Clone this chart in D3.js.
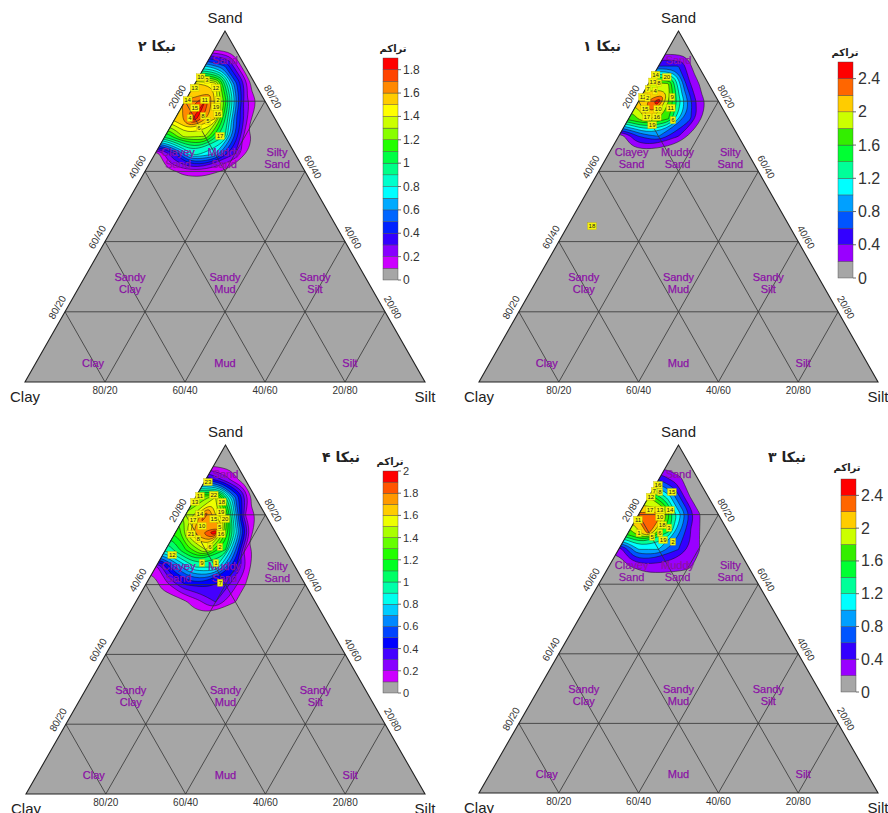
<!DOCTYPE html>
<html lang="fa"><head><meta charset="utf-8">
<script src="https://cdnjs.cloudflare.com/ajax/libs/d3/7.8.5/d3.min.js"></script>
<style>
html,body{margin:0;padding:0;background:#fff;}
svg{display:block;font-family:"Liberation Sans",Arial,sans-serif;}
</style></head><body>
<svg id="chart" width="888" height="813"></svg>
<script>
// ---------- grid of the density field (ternary coordinates, fractions) ----------
const sandRows = [1.00,0.95,0.90,0.85,0.80,0.75,0.70,0.65,0.60,0.55,0.50,0.45];
const siltCols = [-0.05,0,0.05,0.10,0.15,0.20,0.25,0.30];

// نبکا ۲ (top-left)
const densityNebka2 = [
 [0,0,0,0,0,0,0,0],
 [0.05,0.05,0,0,0,0,0,0],
 [0.7,0.7,0.5,0,0,0,0,0],
 [1.5,1.5,1.45,0.55,0,0,0,0],
 [1.6,1.6,1.8,1.15,0.25,0,0,0],
 [1.5,1.5,1.85,1.5,0.55,0,0,0],
 [1.0,1.0,1.35,1.3,0.9,0.15,0,0],
 [0,0,0.4,0.85,0.7,0.3,0,0],
 [0,0,0.05,0.13,0.15,0.08,0,0],
 [0,0,0,0,0,0,0,0],
 [0,0,0,0,0,0,0,0],
 [0,0,0,0,0,0,0,0]
];
// نبکا ۱ (top-right)
const densityNebka1 = [
 [0,0,0,0,0,0,0,0],
 [0,0,0,0,0,0,0,0],
 [0.6,0.6,0.6,0,0,0,0,0],
 [1.9,1.9,1.8,0.45,0,0,0,0],
 [2.1,2.1,2.5,1.3,0.3,0,0,0],
 [1.6,1.6,2.1,1.6,0.7,0,0,0],
 [0,0,0.6,0.8,0.4,0,0,0],
 [0,0,0,0,0,0,0,0],
 [0,0,0,0,0,0,0,0],
 [0,0,0,0,0,0,0,0],
 [0,0,0,0,0,0,0,0],
 [0,0,0,0,0,0,0,0]
];
// نبکا ۴ (bottom-left)
const densityNebka4 = [
 [0,0,0,0,0,0,0,0],
 [0,0,0,0,0,0,0,0],
 [0.5,0.5,0.25,0,0,0,0,0],
 [1.3,1.3,1.5,0.6,0,0,0,0],
 [1.4,1.4,1.85,1.3,0.2,0,0,0],
 [1.2,1.2,1.75,1.98,0.85,0,0,0],
 [0.9,0.9,1.2,1.5,1.1,0.15,0,0],
 [0.15,0.15,0.6,0.9,0.9,0.45,0,0],
 [0,0,0.15,0.4,0.45,0.35,0.1,0],
 [0,0,0,0,0.15,0.3,0.1,0],
 [0,0,0,0,0,0,0,0],
 [0,0,0,0,0,0,0,0]
];
// نبکا ۳ (bottom-right)
const densityNebka3 = [
 [0,0,0,0,0,0,0,0],
 [0,0,0,0,0,0,0,0],
 [0.6,0.6,0.25,0,0,0,0,0],
 [1.8,1.8,1.1,0.22,0,0,0,0],
 [2.25,2.25,2.4,1.1,0.22,0,0,0],
 [1.7,1.7,2.3,1.4,0.45,0,0,0],
 [0.25,0.25,1.0,1.0,0.6,0.22,0,0],
 [0,0,0.18,0.3,0.3,0.25,0,0],
 [0,0,0,0,0,0,0,0],
 [0,0,0,0,0,0,0,0],
 [0,0,0,0,0,0,0,0],
 [0,0,0,0,0,0,0,0]
];

// ---------- contour levels / colour scales ----------
const edgesNebka2 = [0,0.1,0.2,0.3,0.4,0.5,0.6,0.7,0.8,0.9,1.0,1.1,1.2,1.3,1.4,1.5,1.6,1.7,1.8,1.9];
const colorsNebka2 = ["#a6a6a6","#cc00ff","#8800ff","#3300ff","#0022ff","#0066ff","#00aaff","#00ffff","#00ffcc","#00ff88","#00ff44","#22ff00","#88ff00","#ccff00","#ffff00","#ffcc00","#ff8800","#ff4400","#ff0000"];
const ticksNebka2 = [0,0.2,0.4,0.6,0.8,1,1.2,1.4,1.6,1.8];

const edgesNebka4 = [0,0.1,0.2,0.3,0.4,0.5,0.6,0.7,0.8,0.9,1.0,1.1,1.2,1.3,1.4,1.5,1.6,1.7,1.8,1.9,2.0];
const colorsNebka4 = ["#a6a6a6","#cc00ff","#8800ff","#4400ff","#0000ff","#0044ff","#0088ff","#00ccff","#00ffee","#00ffaa","#00ff66","#00ff22","#22ff00","#66ff00","#aaff00","#eeff00","#ffcc00","#ff9900","#ff5500","#ff0000"];
const ticksNebka4 = [0,0.2,0.4,0.6,0.8,1,1.2,1.4,1.6,1.8,2];

const edgesWide = [0,0.2,0.4,0.6,0.8,1.0,1.2,1.4,1.6,1.8,2.0,2.2,2.4,2.6];
const colorsWide = ["#a6a6a6","#9900ff","#3300ff","#0055ff","#00a0ff","#00ffff","#00ff99","#00ff33","#33ee00","#ccff00","#ffcc00","#ff6600","#ff0000"];
const ticksWide = [0,0.4,0.8,1.2,1.6,2,2.4];

// ---------- sample points: [id, sand, silt] ----------
const samplesNebka2 = [[10,0.868,0.005],[3,0.860,0.025],[13,0.838,0.005],[12,0.838,0.058],[14,0.803,0.005],[11,0.803,0.048],[2,0.803,0.081],[15,0.781,0.034],[19,0.783,0.086],[8,0.758,0.066],[16,0.764,0.100],[5,0.744,0.085],[6,0.724,0.073],[17,0.701,0.137],[4,0.752,0.036]];
const samplesNebka1 = [[14,0.875,0.005],[20,0.869,0.036],[13,0.856,0.008],[8,0.852,0.025],[7,0.835,0.006],[4,0.829,0.027],[12,0.812,0.005],[2,0.809,0.018],[9,0.812,0.078],[15,0.778,0.027],[10,0.778,0.060],[11,0.781,0.090],[17,0.755,0.043],[16,0.755,0.068],[6,0.746,0.113],[19,0.732,0.068],[18,0.444,0.061]];
const samplesNebka4 = [[23,0.894,0.009],[11,0.854,0.009],[22,0.857,0.042],[13,0.837,0.005],[18,0.837,0.072],[14,0.802,0.035],[19,0.808,0.085],[17,0.785,0.026],[15,0.788,0.077],[20,0.788,0.105],[10,0.768,0.057],[5,0.765,0.103],[21,0.745,0.041],[16,0.745,0.116],[8,0.731,0.066],[6,0.708,0.107],[2,0.708,0.132],[12,0.685,0.024],[9,0.662,0.110],[1,0.662,0.145],[7,0.605,0.184]];
const samplesNebka3 = [[16,0.885,0.006],[7,0.868,0.005],[8,0.865,0.021],[15,0.865,0.051],[12,0.851,0.005],[17,0.813,0.022],[13,0.813,0.047],[14,0.813,0.072],[11,0.785,0.006],[10,0.793,0.057],[18,0.770,0.074],[3,0.762,0.095],[1,0.747,0.027],[6,0.747,0.080],[5,0.736,0.066],[19,0.727,0.098],[2,0.722,0.125]];

// ---------- Folk-type class labels (sand, silt) ----------
const classNames = [["Sand"],["Clayey","Sand"],["Muddy","Sand"],["Silty","Sand"],["Sandy","Clay"],["Sandy","Mud"],["Sandy","Silt"],["Clay"],["Mud"],["Silt"]];
const classSand = [0.917,0.637,0.637,0.637,0.282,0.282,0.282,0.054,0.054,0.054];
const classSilt = [0.0415,0.064,0.179,0.3115,0.1215,0.359,0.584,0.143,0.473,0.7855];

const gridFractions = [0.2,0.4,0.6,0.8];
const bottomTicks = ["80/20","60/40","40/60","20/80"];   // clay/silt
const leftTicks = ["80/20","60/40","40/60","20/80"];     // clay/sand
const rightTicks = ["20/80","40/60","60/40","80/20"];    // sand/silt
const titles = ["نبکا ۲","نبکا ۱","نبکا ۴","نبکا ۳"];
const legendTitle = "تراکم";

// ---------- layout ----------
const layout = [
 {left:25, right:425, apexY:31, baseY:382, barX:383, barW:15, barTop:58, barBottom:280, tickFont:12, titleX:157, titleY:46, legX:393, legY:48},
 {left:479, right:878, apexY:31, baseY:382, barX:838, barW:15, barTop:62, barBottom:278, tickFont:16, titleX:602, titleY:46, legX:845, legY:52},
 {left:26, right:425, apexY:445, baseY:794, barX:383, barW:15, barTop:471, barBottom:693, tickFont:11, titleX:341, titleY:457, legX:390, legY:461},
 {left:479, right:878, apexY:445, baseY:793, barX:841, barW:15, barTop:479, barBottom:692, tickFont:16, titleX:787, titleY:457, legX:847, legY:467}
];
const panelData = [
 {grid:densityNebka2, edges:edgesNebka2, colors:colorsNebka2, ticks:ticksNebka2, samples:samplesNebka2},
 {grid:densityNebka1, edges:edgesWide, colors:colorsWide, ticks:ticksWide, samples:samplesNebka1},
 {grid:densityNebka4, edges:edgesNebka4, colors:colorsNebka4, ticks:ticksNebka4, samples:samplesNebka4},
 {grid:densityNebka3, edges:edgesWide, colors:colorsWide, ticks:ticksWide, samples:samplesNebka3}
];

const svg = d3.select("#chart");
const smooth = d3.line().curve(d3.curveBasisClosed);
const nx = siltCols.length, ny = sandRows.length;
const gx = d3.scaleLinear().domain([0.5, nx-0.5]).range([siltCols[0], siltCols[nx-1]]);
const gy = d3.scaleLinear().domain([0.5, ny-0.5]).range([sandRows[0], sandRows[ny-1]]);

layout.forEach((p, i) => {
  const d = panelData[i];
  const xs = d3.scaleLinear().domain([0,1]).range([p.left, p.right]);
  const ys = d3.scaleLinear().domain([0,1]).range([p.baseY, p.apexY]);
  const proj = (sand, silt) => [xs(silt + sand/2), ys(sand)];
  const g = svg.append("g");
  const tri = [proj(1,0), proj(0,0), proj(0,1)];
  const triD = "M" + tri.map(q => q.join(",")).join("L") + "Z";
  g.append("clipPath").attr("id","clip"+i).append("path").attr("d", triD);
  g.append("path").attr("d", triD).attr("fill", d.colors[0]);

  // contours
  const conts = d3.contours().size([nx, ny]).thresholds(d.edges.slice(1, -1))(d.grid.flat());
  const toPath = c => c.coordinates.map(poly => poly.map(ring =>
      smooth(ring.slice(0, -1).map(([a, b]) => proj(gy(b), gx(a))))).join("")).join("");
  const cg = g.append("g").attr("clip-path", `url(#clip${i})`);
  cg.selectAll("path.band").data(conts).join("path").attr("class","band")
    .attr("d", toPath).attr("fill", (c, k) => d.colors[k+1]).attr("fill-rule","evenodd");
  cg.selectAll("path.iso").data(conts).join("path").attr("class","iso")
    .attr("d", toPath).attr("fill","none").attr("stroke","#111").attr("stroke-width",0.5);

  // lattice
  const segs = [];
  gridFractions.forEach(c => {
    segs.push([proj(c,0), proj(c,1-c)]);
    segs.push([proj(0,c), proj(1-c,c)]);
    segs.push([proj(0,1-c), proj(1-c,0)]);
  });
  g.selectAll("line.grid").data(segs).join("line").attr("class","grid")
    .attr("x1", s => s[0][0]).attr("y1", s => s[0][1]).attr("x2", s => s[1][0]).attr("y2", s => s[1][1])
    .attr("stroke","#333").attr("stroke-width",0.8);
  g.append("path").attr("d", triD).attr("fill","none").attr("stroke","#222").attr("stroke-width",1.1);

  // class labels
  const cl = g.selectAll("text.cls").data(classNames).join("text").attr("class","cls")
    .attr("transform", (n, k) => `translate(${proj(classSand[k], classSilt[k])})`)
    .attr("text-anchor","middle").attr("font-size",11).attr("fill","#7d0a93")
    .attr("stroke","#a020c0").attr("stroke-width",0.25);
  cl.selectAll("tspan").data(n => n.map((t, j) => ({t, j, n: n.length}))).join("tspan")
    .attr("x",0).attr("y", o => (o.n === 1 ? 4 : (o.j === 0 ? -2 : 10))).text(o => o.t);

  // axis tick labels
  const W = p.right - p.left, H = p.baseY - p.apexY, L = Math.hypot(W/2, H);
  const angL = Math.atan2(-H, W/2) * 180 / Math.PI, angR = Math.atan2(H, W/2) * 180 / Math.PI;
  const nL = [-H/L, -W/2/L], nR = [H/L, -W/2/L];
  gridFractions.forEach((c, k) => {
    const b = proj(0, c);
    g.append("text").attr("x", b[0]).attr("y", b[1] + 12).attr("text-anchor","middle")
      .attr("font-size",10).attr("fill","#333").text(bottomTicks[k]);
    const l = proj(c, 0);
    g.append("text").attr("transform", `translate(${l[0] + nL[0]*9},${l[1] + nL[1]*9}) rotate(${angL})`)
      .attr("text-anchor","middle").attr("dominant-baseline","central").attr("font-size",10).attr("fill","#333").text(leftTicks[k]);
    const r = proj(c, 1-c);
    g.append("text").attr("transform", `translate(${r[0] + nR[0]*9},${r[1] + nR[1]*9}) rotate(${angR})`)
      .attr("text-anchor","middle").attr("dominant-baseline","central").attr("font-size",10).attr("fill","#333").text(rightTicks[k]);
  });
  const corner = [["Sand", proj(1,0), -14], ["Clay", proj(0,0), 14], ["Silt", proj(0,1), 14]];
  corner.forEach(([t, q, dy]) => g.append("text").attr("x", q[0]).attr("y", q[1] + dy)
    .attr("text-anchor","middle").attr("dominant-baseline","central").attr("font-size",15).attr("fill","#222").text(t));

  // samples
  const sg = g.selectAll("g.smp").data(d.samples).join("g").attr("class","smp")
    .attr("transform", s => `translate(${proj(s[1], s[2])})`);
  sg.append("rect").attr("x", s => -(String(s[0]).length*3.4+2)/2).attr("y",-3.5)
    .attr("width", s => String(s[0]).length*3.4+2).attr("height",7)
    .attr("fill","#f4f40a").attr("stroke","#b8a800").attr("stroke-width",0.3);
  sg.append("text").attr("text-anchor","middle").attr("y",2).attr("font-size",6).attr("fill","#222").text(s => s[0]);

  // colour bar
  const top = d.edges[d.edges.length-1];
  const cb = d3.scaleLinear().domain([0, top]).range([p.barBottom, p.barTop]);
  g.selectAll("rect.cb").data(d3.pairs(d.edges)).join("rect").attr("class","cb")
    .attr("x", p.barX).attr("width", p.barW).attr("y", e => cb(e[1])).attr("height", e => cb(e[0]) - cb(e[1]))
    .attr("fill", (e, k) => d.colors[k]).attr("stroke","#444").attr("stroke-width",0.4);
  d.ticks.forEach(t => {
    g.append("line").attr("x1", p.barX + p.barW).attr("x2", p.barX + p.barW + 3)
      .attr("y1", cb(t)).attr("y2", cb(t)).attr("stroke","#444").attr("stroke-width",0.8);
    g.append("text").attr("x", p.barX + p.barW + 5).attr("y", cb(t)).attr("dominant-baseline","central")
      .attr("font-size", p.tickFont).attr("fill","#333").text(t);
  });
  g.append("text").attr("x", p.legX).attr("y", p.legY).attr("text-anchor","middle").attr("dominant-baseline","central")
    .attr("font-family","DejaVu Sans").attr("font-weight","bold").attr("font-size",10).attr("fill","#222").text(legendTitle);
  g.append("text").attr("x", p.titleX).attr("y", p.titleY).attr("text-anchor","middle").attr("dominant-baseline","central")
    .attr("direction","rtl").attr("font-family","DejaVu Sans").attr("font-weight","bold").attr("font-size",14).attr("fill","#222").text(titles[i]);
});
</script>
</body></html>
